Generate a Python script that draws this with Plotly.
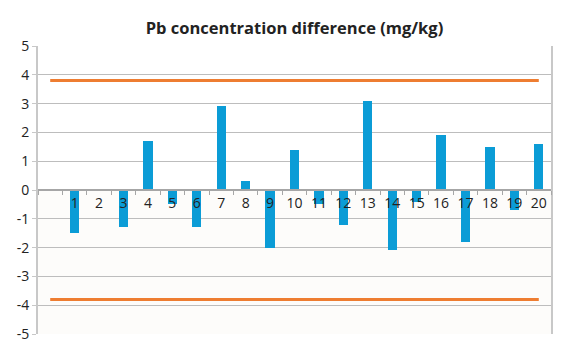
import plotly.graph_objects as go

categories = list(range(1, 21))
values = [-1.5, 0.0, -1.3, 1.7, -0.5, -1.3, 2.9, 0.3, -2.0, 1.4,
          -0.5, -1.2, 3.1, -2.1, -0.4, 1.9, -1.8, 1.5, -0.7, 1.6]
limit_x = list(range(0, 21))
upper_limit = 3.8
lower_limit = -3.8
y_ticks = [5, 4, 3, 2, 1, 0, -1, -2, -3, -4, -5]

font_family = "Open Sans, DejaVu Sans, sans-serif"

fig = go.Figure()
fig.add_trace(go.Bar(x=categories, y=values, width=0.38,
                     marker=dict(color="#0B9CD6", line=dict(width=0)),
                     showlegend=False))
fig.add_trace(go.Scatter(x=limit_x, y=[upper_limit] * len(limit_x), mode="lines",
                         line=dict(color="#EE7D31", width=3), showlegend=False))
fig.add_trace(go.Scatter(x=limit_x, y=[lower_limit] * len(limit_x), mode="lines",
                         line=dict(color="#EE7D31", width=3), showlegend=False))

fig.add_shape(type="rect", xref="paper", yref="y", x0=0, x1=1, y0=-5, y1=0,
              fillcolor="#FDFCFA", line=dict(width=0), layer="below")

fig.update_layout(
    width=561, height=352,
    margin=dict(l=38, r=8, t=46, b=18),
    paper_bgcolor="white", plot_bgcolor="white",
    font=dict(family=font_family, size=14, color="#222222"),
    title=dict(text="<b>Pb concentration difference (mg/kg)</b>",
               x=0.5, xref="paper", xanchor="center",
               y=1 - 28 / 352, yref="container", yanchor="middle",
               font=dict(size=16.5, family=font_family, color="#222222")),
    bargap=0,
)

fig.update_xaxes(
    range=[-0.5, 20.5], anchor="free", position=0.5,
    tickmode="array", tickvals=categories, ticktext=[str(c) for c in categories],
    ticks="", showgrid=False, zeroline=False,
    showline=True, linecolor="#A6A6A6", linewidth=1.5,
    tickfont=dict(size=14, color="#222222"),
    minor=dict(tickmode="linear", tick0=0.5, dtick=1, ticks="outside",
               ticklen=4, tickcolor="#A6A6A6", showgrid=False),
)
fig.update_yaxes(
    range=[-5, 5], tickmode="array", tickvals=y_ticks,
    ticktext=[str(v) for v in y_ticks],
    showgrid=True, gridcolor="#BDBDBD", gridwidth=1,
    zeroline=False, showline=True, linecolor="#C8C8C8", linewidth=2,
    mirror=True, ticks="outside", ticklen=4, tickcolor="#C8C8C8",
    tickfont=dict(size=14, color="#222222"),
)

fig.write_html("out.html")
